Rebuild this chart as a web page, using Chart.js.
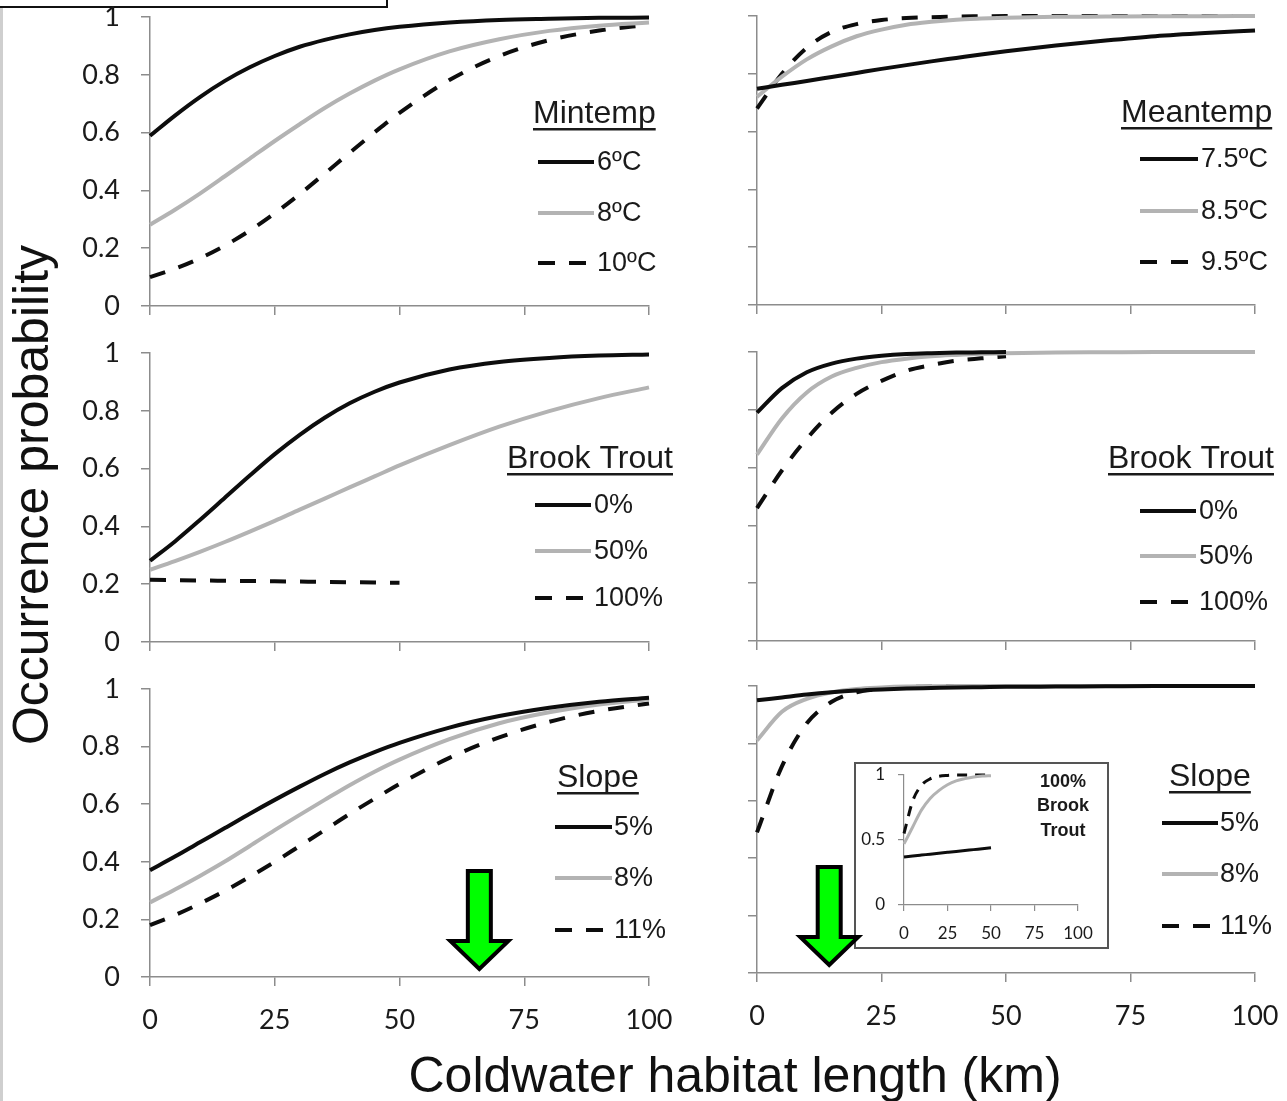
<!DOCTYPE html>
<html>
<head>
<meta charset="utf-8">
<script src="https://cdn.jsdelivr.net/npm/chart.js@4.4.0/dist/chart.umd.min.js"></script>
<style>
  body { margin:0; background:#fff; width:1287px; height:1101px; position:relative; overflow:hidden;
         font-family:"Liberation Sans", Arial, sans-serif; color:#111; }
  canvas { position:absolute; }
  #topBox { position:absolute; left:-3px; top:-4px; width:387px; height:8px; border:2px solid #111; background:#fff; }
  #edge { position:absolute; left:0; top:8px; width:3px; height:1093px; background:#cfcfcf; }
  #yTitle { position:absolute; left:31px; top:495px; font-size:50px; line-height:50px; white-space:nowrap;
            transform:translate(-50%,-50%) rotate(-90deg); }
  #xTitle { position:absolute; left:735px; top:1050px; font-size:50px; line-height:50px; white-space:nowrap;
            transform:translateX(-50%); }
</style>
</head>
<body>
<div id="topBox"></div>
<div id="edge"></div>
<div id="yTitle">Occurrence probability</div>
<div id="xTitle">Coldwater habitat length (km)</div>
<canvas id="tl"></canvas>
<canvas id="tr"></canvas>
<canvas id="ml"></canvas>
<canvas id="mr"></canvas>
<canvas id="bl"></canvas>
<canvas id="inset" style="z-index:1"></canvas>
<canvas id="br" style="z-index:2"></canvas>
<script>
// habitat length grid (km)
const kmFull = [0,5,10,15,20,25,30,35,40,45,50,60,70,80,90,100];
const kmHalf = [0,5,10,15,20,25,30,35,40,45,50];

const xTickValues = [0,25,50,75,100];
const xTickLabels = ['0','25','50','75','100'];
const yTickValues = [0,0.2,0.4,0.6,0.8,1];
const yTickLabels = ['0','0.2','0.4','0.6','0.8','1'];
const insetYValues = [0,0.5,1];
const insetYLabels = ['0','0.5','1'];

// legend labels
const mintempLabels = ['6ºC','8ºC','10ºC'];
const meantempLabels = ['7.5ºC','8.5ºC','9.5ºC'];
const troutLabels = ['0%','50%','100%'];
const slopeLabels = ['5%','8%','11%'];
const insetLabel = ['100%','Brook','Trout'];

// Mintemp
const mintemp6  = [0.589,0.659,0.723,0.779,0.826,0.865,0.897,0.921,0.940,0.955,0.966,0.981,0.990,0.994,0.997,0.998];
const mintemp8  = [0.281,0.333,0.389,0.449,0.510,0.571,0.629,0.685,0.735,0.780,0.819,0.881,0.923,0.952,0.970,0.981];
const mintemp10 = [0.100,0.129,0.165,0.209,0.261,0.321,0.387,0.458,0.530,0.601,0.668,0.782,0.865,0.920,0.953,0.973];

// Meantemp
const meantemp75 = [0.748,0.762,0.775,0.789,0.803,0.817,0.830,0.843,0.855,0.867,0.878,0.898,0.915,0.930,0.941,0.950];
const meantemp85 = [0.720,0.790,0.850,0.895,0.930,0.953,0.970,0.980,0.987,0.991,0.994,0.997,0.998,0.999,0.999,1.000];
const meantemp95 = [0.680,0.800,0.890,0.945,0.972,0.986,0.993,0.996,0.998,0.999,1.000,1.000,1.000,1.000,1.000,1.000];

// Brook trout, left
const troutL0   = [0.281,0.348,0.422,0.499,0.576,0.650,0.717,0.776,0.826,0.866,0.898,0.943,0.969,0.983,0.991,0.995];
const troutL50  = [0.250,0.280,0.312,0.346,0.382,0.419,0.458,0.496,0.535,0.573,0.611,0.681,0.745,0.799,0.844,0.881];
const troutL100 = [0.215,0.214,0.213,0.212,0.211,0.210,0.209,0.208,0.207,0.206,0.205];

// Brook trout, right
const troutR0   = [0.790,0.875,0.930,0.960,0.977,0.987,0.993,0.996,0.998,0.999,1.000];
const troutR50  = [0.645,0.770,0.860,0.915,0.945,0.965,0.977,0.985,0.990,0.994,0.996,0.998,0.999,1.000,1.000,1.000];
const troutR100 = [0.460,0.590,0.700,0.790,0.855,0.900,0.935,0.955,0.970,0.978,0.985];

// Slope, left
const slopeL5  = [0.371,0.418,0.468,0.517,0.567,0.615,0.661,0.705,0.745,0.781,0.813,0.866,0.906,0.935,0.956,0.970];
const slopeL8  = [0.259,0.304,0.351,0.401,0.455,0.510,0.563,0.615,0.666,0.713,0.755,0.826,0.881,0.919,0.946,0.964];
const slopeL11 = [0.180,0.215,0.255,0.299,0.348,0.400,0.455,0.510,0.566,0.619,0.670,0.761,0.832,0.886,0.924,0.950];

// Slope, right
const slopeR5  = [0.950,0.960,0.970,0.978,0.984,0.988,0.991,0.993,0.995,0.996,0.997,0.998,0.999,1.000,1.000,1.000];
const slopeR8  = [0.810,0.910,0.955,0.978,0.990,0.995,0.998,0.999,1.000,1.000,1.000,1.000,1.000,1.000,1.000,1.000];
const slopeR11 = [0.490,0.720,0.870,0.945,0.978,0.990,0.996,0.998,1.000,1.000,1.000,1.000,1.000,1.000,1.000,1.000];

// Slope at 100% brook trout (inset)
const inset5  = [0.370,0.377,0.384,0.391,0.398,0.405,0.412,0.419,0.426,0.433,0.440];
const inset8  = [0.470,0.600,0.730,0.820,0.880,0.925,0.955,0.972,0.985,0.992,0.995];
const inset11 = [0.550,0.800,0.920,0.970,0.990,0.997,1.000,1.000,1.000,1.000,1.000];

// arrow positions along the x axis (km)
const arrowKm = { bl: 66, br: 14.5 };

const lineStyles = [
  { borderColor:'#0d0d0d', borderDash:[] },
  { borderColor:'#b3b3b3', borderDash:[] },
  { borderColor:'#0d0d0d', borderDash:[16,14] }
];
const AXIS = '#8c8c8c';
const TEXT = '#1a1a1a';
// Chart.js keeps half a label plus the tick padding above the top tick
const TOP_ROOM = 38;

function pts(km, vals) {
  return km.map((x, i) => ({ x: x, y: vals[i] }));
}

function drawArrow(ctx, cx, tip) {
  const sh = 11.5, hh = 29, top = tip - 98, base = tip - 28;
  ctx.save();
  ctx.beginPath();
  ctx.moveTo(cx - sh, top);
  ctx.lineTo(cx + sh, top);
  ctx.lineTo(cx + sh, base);
  ctx.lineTo(cx + hh, base);
  ctx.lineTo(cx, tip);
  ctx.lineTo(cx - hh, base);
  ctx.lineTo(cx - sh, base);
  ctx.closePath();
  ctx.fillStyle = '#00ff00';
  ctx.fill();
  ctx.lineWidth = 4;
  ctx.strokeStyle = '#000';
  ctx.lineJoin = 'miter';
  ctx.stroke();
  ctx.restore();
}

function makePanel(id, area, sets, opt) {
  const cv = document.getElementById(id);
  const offX = area.left - 100, offY = area.top - TOP_ROOM;
  cv.width = area.right - area.left + 160;
  cv.height = area.bottom - area.top + TOP_ROOM + 70;
  cv.style.left = offX + 'px';
  cv.style.top = offY + 'px';

  const lg = opt.legend;
  const panelDeco = {
    id: 'deco_' + id,
    afterDraw(chart) {
      const ctx = chart.ctx;
      ctx.save();
      ctx.fillStyle = TEXT;
      ctx.textAlign = 'left';
      ctx.textBaseline = 'alphabetic';
      ctx.font = '32px "Liberation Sans"';
      ctx.fillText(lg.title, lg.titleX - offX, lg.titleY - offY);
      const tw = ctx.measureText(lg.title).width;
      ctx.fillRect(lg.titleX - offX, lg.titleY + 5 - offY, tw, 2.5);
      ctx.font = '27px "Liberation Sans"';
      ctx.textBaseline = 'middle';
      lg.labels.forEach((lab, i) => {
        const y = lg.rows[i] - offY;
        ctx.strokeStyle = lineStyles[i].borderColor;
        ctx.lineWidth = 4;
        ctx.setLineDash(i === 2 ? [17, 14] : []);
        ctx.beginPath();
        ctx.moveTo(lg.x1 - offX, y);
        ctx.lineTo(lg.x2 - offX, y);
        ctx.stroke();
        ctx.fillText(lab, lg.textX - offX, y + 1);
      });
      ctx.restore();
      if (opt.arrow !== undefined) {
        const xs = chart.scales.x;
        drawArrow(ctx, xs.getPixelForValue(opt.arrow), chart.chartArea.bottom - 8);
      }
    }
  };

  return new Chart(cv, {
    type: 'line',
    data: {
      datasets: sets.map((s, i) => ({
        data: s,
        borderColor: lineStyles[i].borderColor,
        borderDash: lineStyles[i].borderDash,
        borderWidth: 4,
        pointRadius: 0,
        fill: false,
        cubicInterpolationMode: 'monotone',
        clip: false
      }))
    },
    options: {
      responsive: false,
      animation: false,
      events: [],
      layout: { padding: { left: 0, top: TOP_ROOM, right: 60, bottom: 0 } },
      plugins: { legend: { display: false }, tooltip: { enabled: false } },
      scales: {
        x: {
          type: 'linear', min: 0, max: 100,
          afterFit: s => { s.height = 70; },
          afterBuildTicks: s => { s.ticks = xTickValues.map(v => ({ value: v })); },
          ticks: {
            autoSkip: false, maxRotation: 0, padding: 18, color: TEXT,
            font: { family: 'Lato', size: 27 },
            callback: (v, i) => opt.xLabels ? xTickLabels[i] : ''
          },
          grid: { drawOnChartArea: false, drawTicks: true, tickLength: 9, color: AXIS, lineWidth: 1.5 },
          border: { display: true, color: AXIS, width: 1.5 }
        },
        y: {
          min: 0, max: 1,
          afterFit: s => { s.width = 100; },
          afterBuildTicks: s => { s.ticks = yTickValues.map(v => ({ value: v })); },
          ticks: {
            autoSkip: false, padding: 21, color: TEXT,
            font: { family: 'Lato', size: 27 },
            callback: (v, i) => opt.yLabels ? yTickLabels[i] : ''
          },
          grid: { drawOnChartArea: false, drawTicks: true, tickLength: 9, color: AXIS, lineWidth: 1.5 },
          border: { display: true, color: AXIS, width: 1.5 }
        }
      }
    },
    plugins: [panelDeco]
  });
}

makePanel('tl', { left: 150, right: 649, top: 17, bottom: 306 },
  [pts(kmFull, mintemp6), pts(kmFull, mintemp8), pts(kmFull, mintemp10)],
  { yLabels: true, xLabels: false,
    legend: { title: 'Mintemp', titleX: 533, titleY: 123, labels: mintempLabels,
              rows: [162, 213, 263], x1: 538, x2: 594, textX: 597 } });

makePanel('tr', { left: 757, right: 1255, top: 16, bottom: 305 },
  [pts(kmFull, meantemp75), pts(kmFull, meantemp85), pts(kmFull, meantemp95)],
  { yLabels: false, xLabels: false,
    legend: { title: 'Meantemp', titleX: 1121, titleY: 122, labels: meantempLabels,
              rows: [159, 211, 262], x1: 1140, x2: 1198, textX: 1201 } });

makePanel('ml', { left: 150, right: 649, top: 353, bottom: 642 },
  [pts(kmFull, troutL0), pts(kmFull, troutL50), pts(kmHalf, troutL100)],
  { yLabels: true, xLabels: false,
    legend: { title: 'Brook Trout', titleX: 507, titleY: 468, labels: troutLabels,
              rows: [505, 551, 598], x1: 535, x2: 591, textX: 594 } });

makePanel('mr', { left: 757, right: 1255, top: 352, bottom: 641 },
  [pts(kmHalf, troutR0), pts(kmFull, troutR50), pts(kmHalf, troutR100)],
  { yLabels: false, xLabels: false,
    legend: { title: 'Brook Trout', titleX: 1108, titleY: 468, labels: troutLabels,
              rows: [511, 556, 602], x1: 1140, x2: 1196, textX: 1199 } });

makePanel('bl', { left: 150, right: 649, top: 689, bottom: 977 },
  [pts(kmFull, slopeL5), pts(kmFull, slopeL8), pts(kmFull, slopeL11)],
  { yLabels: true, xLabels: true, arrow: arrowKm.bl,
    legend: { title: 'Slope', titleX: 557, titleY: 787, labels: slopeLabels,
              rows: [827, 878, 930], x1: 555, x2: 612, textX: 614 } });

makePanel('br', { left: 757, right: 1255, top: 686, bottom: 973 },
  [pts(kmFull, slopeR5), pts(kmFull, slopeR8), pts(kmFull, slopeR11)],
  { yLabels: false, xLabels: true, arrow: arrowKm.br,
    legend: { title: 'Slope', titleX: 1169, titleY: 786, labels: slopeLabels,
              rows: [823, 874, 926], x1: 1162, x2: 1218, textX: 1220 } });

// inset: slope curves at 100% brook trout
(function () {
  const cv = document.getElementById('inset');
  const box = { left: 854, top: 762, right: 1109, bottom: 949 };
  const plotTop = 775, room = 24;
  const offX = box.left, offY = plotTop - room;
  cv.width = box.right - box.left;
  cv.height = box.bottom - offY;
  cv.style.left = offX + 'px';
  cv.style.top = offY + 'px';
  const insetDeco = {
    id: 'insetDeco',
    beforeDraw(chart) {
      const ctx = chart.ctx;
      const by = box.top - offY;
      ctx.save();
      ctx.fillStyle = '#fff';
      ctx.fillRect(0, by, cv.width, cv.height - by);
      ctx.strokeStyle = '#555';
      ctx.lineWidth = 2;
      ctx.strokeRect(1, by + 1, cv.width - 2, cv.height - by - 2);
      ctx.restore();
    },
    afterDraw(chart) {
      const ctx = chart.ctx;
      ctx.save();
      ctx.fillStyle = TEXT;
      ctx.font = 'bold 18px "Liberation Sans"';
      ctx.textAlign = 'center';
      ctx.textBaseline = 'middle';
      const rows = [782, 806, 831];
      insetLabel.forEach((t, i) => ctx.fillText(t, 1063 - offX, rows[i] - offY));
      ctx.restore();
    }
  };
  const sets = [pts(kmHalf, inset5), pts(kmHalf, inset8), pts(kmHalf, inset11)];
  new Chart(cv, {
    type: 'line',
    data: {
      datasets: sets.map((s, i) => ({
        data: s,
        borderColor: lineStyles[i].borderColor,
        borderDash: i === 2 ? [10, 8] : [],
        borderWidth: 3,
        pointRadius: 0,
        fill: false,
        cubicInterpolationMode: 'monotone',
        clip: false
      }))
    },
    options: {
      responsive: false,
      animation: false,
      events: [],
      layout: { padding: { left: 0, top: room, right: 31, bottom: 0 } },
      plugins: { legend: { display: false }, tooltip: { enabled: false } },
      scales: {
        x: {
          type: 'linear', min: 0, max: 100,
          afterFit: s => { s.height = 44; },
          afterBuildTicks: s => { s.ticks = xTickValues.map(v => ({ value: v })); },
          ticks: { autoSkip: false, maxRotation: 0, padding: 12, color: TEXT,
                   font: { family: 'Lato', size: 17 }, callback: (v, i) => xTickLabels[i] },
          grid: { drawOnChartArea: false, drawTicks: true, tickLength: 6, color: AXIS, lineWidth: 1.2 },
          border: { display: true, color: AXIS, width: 1.2 }
        },
        y: {
          min: 0, max: 1,
          afterFit: s => { s.width = 50; },
          afterBuildTicks: s => { s.ticks = insetYValues.map(v => ({ value: v })); },
          ticks: { autoSkip: false, padding: 13, color: TEXT,
                   font: { family: 'Lato', size: 17 }, callback: (v, i) => insetYLabels[i] },
          grid: { drawOnChartArea: false, drawTicks: true, tickLength: 6, color: AXIS, lineWidth: 1.2 },
          border: { display: true, color: AXIS, width: 1.2 }
        }
      }
    },
    plugins: [insetDeco]
  });
})();
</script>
</body>
</html>
